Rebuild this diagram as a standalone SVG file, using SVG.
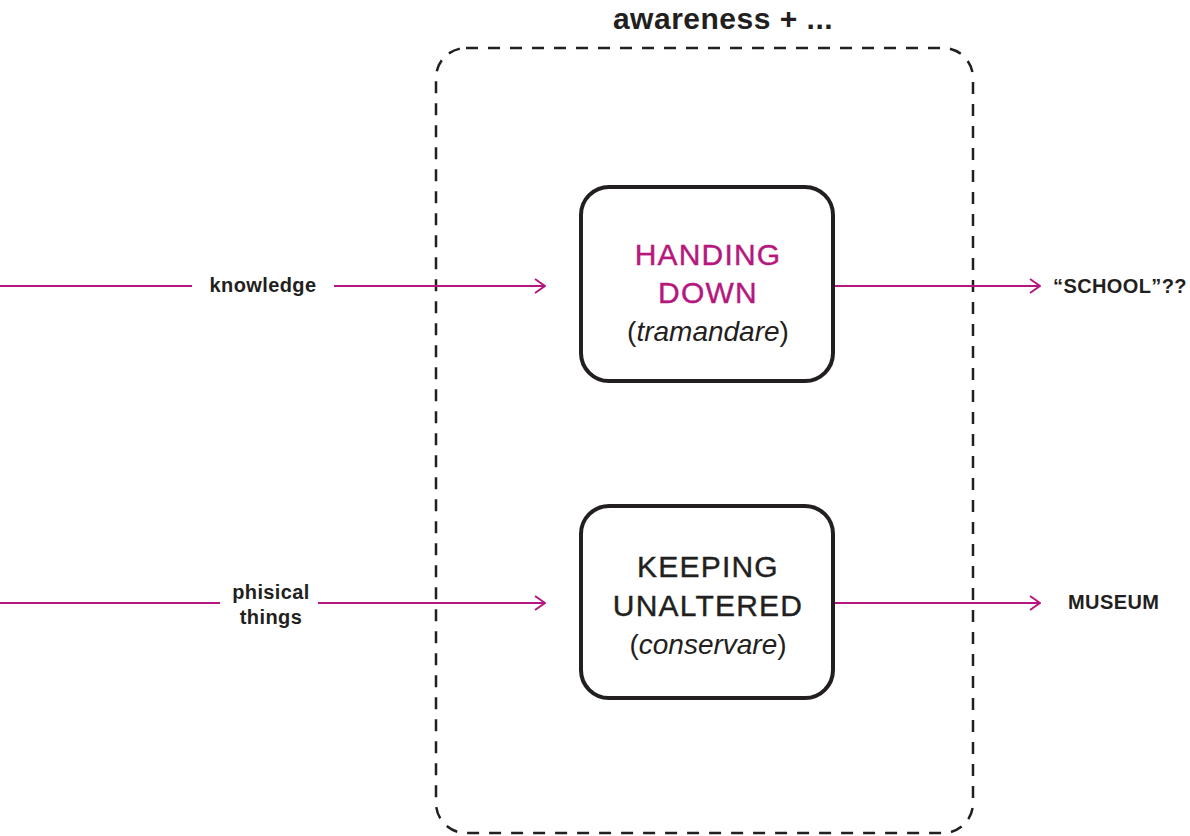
<svg xmlns="http://www.w3.org/2000/svg" width="1190" height="836" viewBox="0 0 1190 836">
<style>
.lbl{font-family:"Liberation Sans",Arial,sans-serif;font-weight:bold;fill:#231f20;font-size:20px;letter-spacing:0.4px}
.conn{stroke:#b5177d;stroke-width:2.2;fill:none}
.node{fill:#fff;stroke:#231f20;stroke-width:4}
.big{font-family:"Liberation Sans",Arial,sans-serif;font-size:30px;letter-spacing:1.2px;fill:#231f20;text-anchor:middle;stroke:#231f20;stroke-width:0.4}
.pink{fill:#b5177d;stroke:#b5177d}
.sub{font-family:"Liberation Sans",Arial,sans-serif;font-size:28px;fill:#231f20;text-anchor:middle}
</style>
<defs>
<marker id="arr" viewBox="0 0 12 16" refX="11" refY="8" markerWidth="12" markerHeight="16" markerUnits="userSpaceOnUse" orient="auto">
<path d="M1,1 L11,8 L1,15" fill="none" stroke="#b5177d" stroke-width="2"/>
</marker>
</defs>
<rect width="1190" height="836" fill="#fff"/>
<g id="container">
<rect x="436" y="48" width="537" height="785" rx="30" fill="none" stroke="#231f20" stroke-width="2.5" stroke-dasharray="12 10"/>
<text x="723" y="29" font-family="Liberation Sans, Arial, sans-serif" font-weight="bold" font-size="30" fill="#231f20" text-anchor="middle" letter-spacing="0.5">awareness + ...</text>
</g>
<g id="connectors">
<path class="conn" d="M0,286 H192"/>
<path class="conn" d="M334,286 H545" marker-end="url(#arr)"/>
<path class="conn" d="M834,286 H1040" marker-end="url(#arr)"/>
<path class="conn" d="M0,603 H220"/>
<path class="conn" d="M318,603 H545" marker-end="url(#arr)"/>
<path class="conn" d="M834,603 H1040" marker-end="url(#arr)"/>
</g>
<g id="label-knowledge"><text x="263" y="292" class="lbl" text-anchor="middle">knowledge</text></g>
<g id="label-phisical"><text x="271" y="599" class="lbl" text-anchor="middle">phisical</text><text x="271" y="624" class="lbl" text-anchor="middle">things</text></g>
<g id="handing-down">
<rect class="node" x="581" y="187" width="252" height="194" rx="28"/>
<text x="708" y="265" class="big pink">HANDING</text>
<text x="708" y="303" class="big pink">DOWN</text>
<text x="708" y="341" class="sub">(<tspan font-style="italic">tramandare</tspan>)</text>
</g>
<g id="keeping-unaltered">
<rect class="node" x="581" y="506" width="252" height="192" rx="28"/>
<text x="708" y="577" class="big">KEEPING</text>
<text x="708" y="616" class="big">UNALTERED</text>
<text x="708" y="654" class="sub">(<tspan font-style="italic">conservare</tspan>)</text>
</g>
<g id="school"><text x="1053" y="293" class="lbl">“SCHOOL”??</text></g>
<g id="museum"><text x="1068" y="609" class="lbl">MUSEUM</text></g>
</svg>
